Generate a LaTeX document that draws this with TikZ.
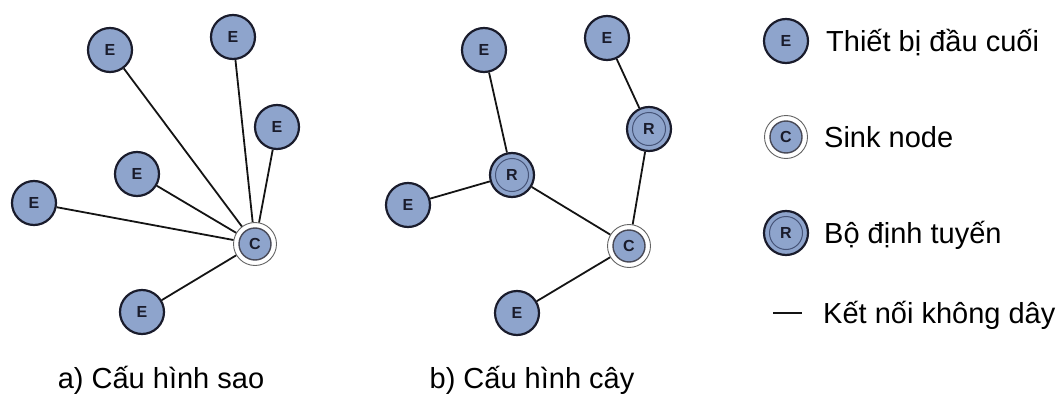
\documentclass[tikz,border=0pt]{standalone}
\usepackage{fontspec}
\setmainfont{Liberation Sans}
\definecolor{nodefill}{RGB}{142,164,204}
\definecolor{nodeline}{RGB}{26,28,44}
\definecolor{ringline}{RGB}{70,84,120}
\definecolor{sinkring}{RGB}{100,100,100}
\definecolor{linkcol}{RGB}{20,20,20}
\begin{document}
\begin{tikzpicture}[x=1pt,y=-1pt,
  dev/.style={circle, draw=nodeline, line width=2.2pt, fill=nodefill,
    minimum size=44pt, inner sep=0pt,
    font=\fontsize{16}{16}\selectfont\bfseries, text=nodeline},
  sink/.style={circle, draw=sinkring, line width=0.9pt, fill=white,
    minimum size=43pt, inner sep=0pt,
    font=\fontsize{16}{16}\selectfont\bfseries, text=nodeline,
    path picture={\draw[draw=nodeline!80, line width=1.4pt, fill=nodefill]
      (path picture bounding box.center) circle (16pt);}},
  router/.style={dev,
    path picture={\draw[ringline, line width=1pt]
      (path picture bounding box.center) circle (16.5pt);}},
  link/.style={draw=linkcol, line width=1.8pt},
  caption/.style={font=\fontsize{29}{34}\selectfont, anchor=base, inner sep=0pt},
  legendtext/.style={font=\fontsize{29}{34}\selectfont, anchor=base west, inner sep=0pt}
]
\useasboundingbox (0,0) rectangle (1060,396);

% a) star topology
\node[sink] (sa) at (255,244) {C};
\node[dev] (a1) at (110,50) {E};
\node[dev] (a2) at (233,37) {E};
\node[dev] (a3) at (277,127) {E};
\node[dev] (a4) at (137,174) {E};
\node[dev] (a5) at (34,203) {E};
\node[dev] (a6) at (142,312) {E};
\foreach \n in {a1,a2,a3,a4,a5,a6} \draw[link] (\n) -- (sa);
\node[caption] (capa) at (161,388) {a) Cấu hình sao};

% b) tree topology
\node[sink] (sb) at (629,246) {C};
\node[router] (r1) at (512,175) {R};
\node[router] (r2) at (649,129) {R};
\node[dev] (b1) at (484,50) {E};
\node[dev] (b2) at (607,38) {E};
\node[dev] (b3) at (408,205) {E};
\node[dev] (b4) at (517,313) {E};
\draw[link] (b1) -- (r1);
\draw[link] (b3) -- (r1);
\draw[link] (r1) -- (sb);
\draw[link] (b2) -- (r2);
\draw[link] (r2) -- (sb);
\draw[link] (b4) -- (sb);
\node[caption] (capb) at (532,388) {b) Cấu hình cây};

% legend
\node[dev] (le) at (786,41) {E};
\node[legendtext] (te) at (826,51.5) {Thiết bị đầu cuối};
\node[sink] (lc) at (786,137) {C};
\node[legendtext] (tc) at (824,147.5) {Sink node};
\node[router] (lr) at (786,233) {R};
\node[legendtext] (tr) at (824,243.5) {Bộ định tuyến};
\coordinate (d1) at (773,313);
\coordinate (d2) at (802,313);
\draw[link, line width=1.6pt] (d1) -- (d2);
\node[legendtext] (tk) at (823,323.5) {Kết nối không dây};
\end{tikzpicture}
\end{document}
